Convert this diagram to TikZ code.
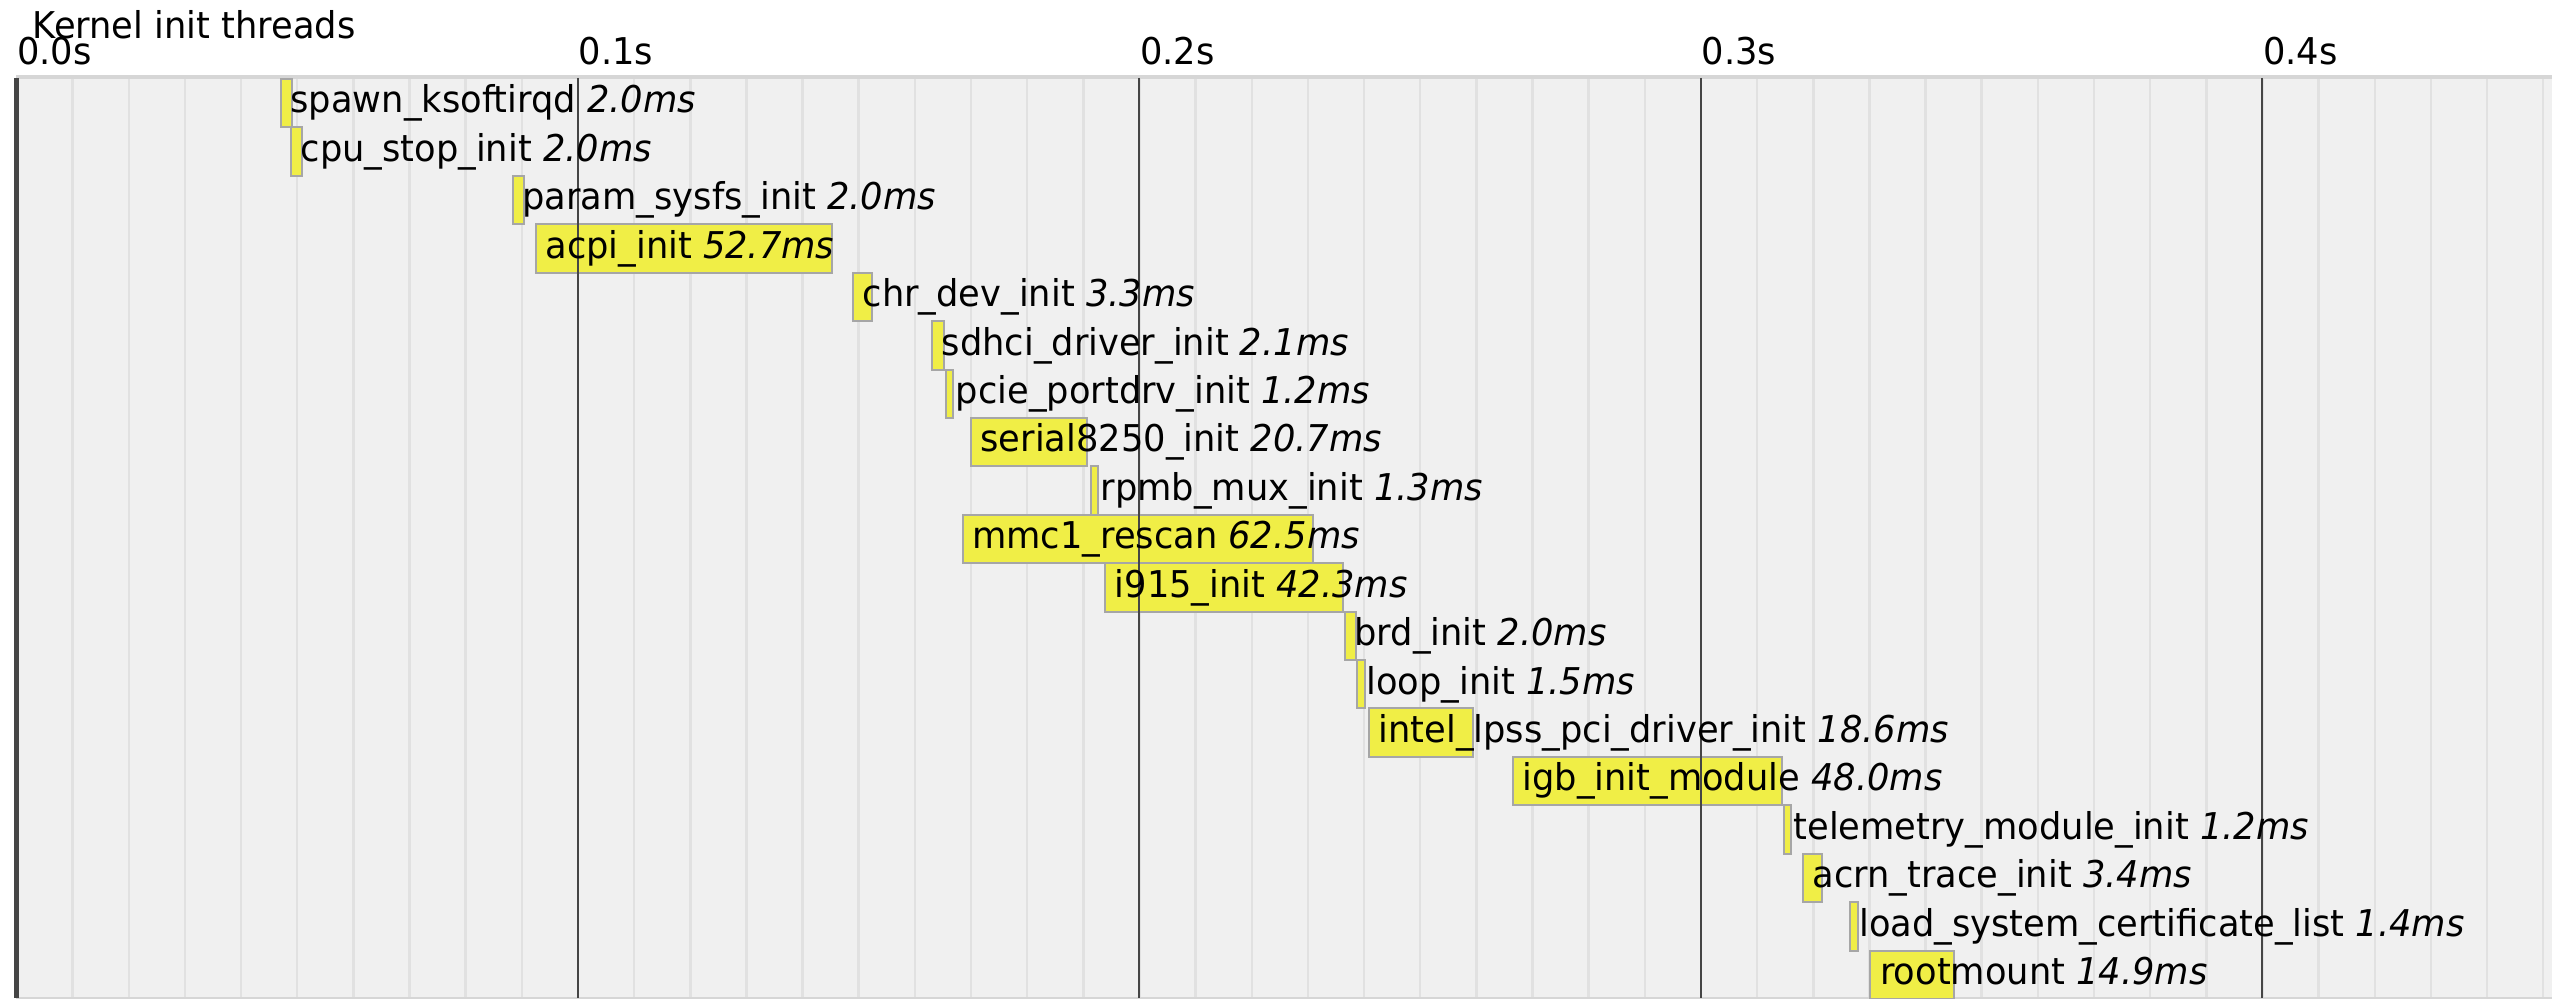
\documentclass[tikz,border=0pt]{standalone}
\usepackage{fontspec}
\setmainfont[FakeStretch=0.955]{DejaVu Sans}

\definecolor{chartbg}{HTML}{F0F0F0}
\definecolor{minorgrid}{HTML}{E1E1E1}
\definecolor{majorgrid}{HTML}{454545}
\definecolor{edgegray}{HTML}{D6D6D6}
\definecolor{barfill}{HTML}{F0EE46}
\definecolor{barline}{HTML}{A6A6A6}

\tikzset{
	every node/.style={font=\fontsize{10.5pt}{12pt}\selectfont, inner sep=0pt},
	minor/.style={minorgrid, line width=0.25mm},
	major/.style={majorgrid, line width=0.2mm},
	bar/.style={draw=barline, line width=0.2mm, fill=barfill, anchor=north west, minimum height=4.842mm},
	task/.style={anchor=base west},
	tick/.style={anchor=base west},
}

% start (ms) / duration (ms) / name, one row each
\def\inittasks{46.9/2.0/spawn\_ksoftirqd, 48.7/2.0/cpu\_stop\_init, 88.2/2.0/param\_sysfs\_init,
	92.3/52.7/acpi\_init, 148.8/3.3/chr\_dev\_init, 162.9/2.1/sdhci\_driver\_init,
	165.4/1.2/pcie\_portdrv\_init, 169.8/20.7/serial8250\_init, 191.2/1.3/rpmb\_mux\_init,
	168.3/62.5/mmc1\_rescan, 193.7/42.3/i915\_init, 236.4/2.0/brd\_init,
	238.5/1.5/loop\_init, 240.7/18.6/intel\_lpss\_pci\_driver\_init, 266.3/48.0/igb\_init\_module,
	314.6/1.2/telemetry\_module\_init, 318.0/3.4/acrn\_trace\_init,
	326.3/1.4/load\_system\_certificate\_list, 330.0/14.9/rootmount}

\begin{document}
\begin{tikzpicture}[x=0.5615mm, y=-4.842mm] % x in ms, y in rows
	\useasboundingbox (-1.65mm,7.8mm) rectangle (253.55mm,-92.1mm);
	
	% chart area
	\fill[chartbg] (0,0) rectangle (452,19);
	\foreach \t in {10,20,...,450}
		\draw[minor] (\t,0) -- (\t,19);
	\draw[edgegray, line width=0.4mm] (0,-0.02) -- (452,-0.02);
	\draw[edgegray, line width=0.2mm] (0,19) -- (452,19);
	
	\foreach \tstart/\dur/\task [count=\i from 0] in \inittasks
		\node[bar, minimum width=\dur*0.5615mm] (b\i) at (\tstart,\i) {};
	
	% axis
	\foreach \t/\lab in {0/0.0s, 100/0.1s, 200/0.2s, 300/0.3s, 400/0.4s} {
		\draw[major] (\t,0) -- (\t,19);
		\node[tick] (tick\t) at ([yshift=1.35mm]\t,0) {\lab};
	}
	\draw[majorgrid, line width=0.5mm] (0,0) -- (0,19);
	\node[tick] (title) at ([xshift=1.55mm,yshift=3.9mm]0,0) {Kernel init threads};
	
	\foreach \tstart/\dur/\task [count=\i from 0] in \inittasks
		\node[task] (l\i) at ([xshift=1mm,yshift=-3.5mm]b\i.north west) {\task\ \textit{\dur ms}};
\end{tikzpicture}
\end{document}
